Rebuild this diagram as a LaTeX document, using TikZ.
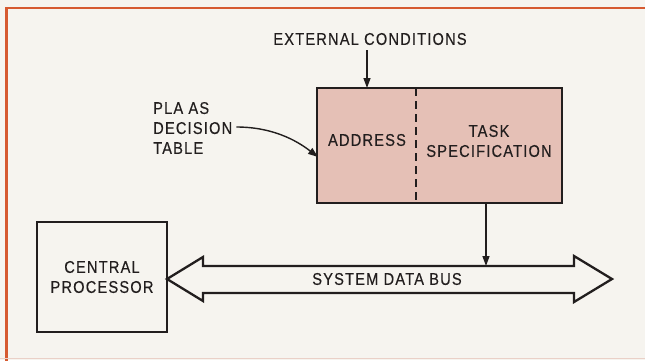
\documentclass[tikz,border=0pt]{standalone}
\usepackage{fontspec}
\setmainfont{Liberation Sans}[FakeStretch=0.86,LetterSpace=7,FakeBold=0.3]
\usetikzlibrary{arrows.meta}
\definecolor{bgc}{HTML}{F6F4EF}
\definecolor{framec}{HTML}{D65A30}
\definecolor{pinkc}{HTML}{E5C0B6}
\definecolor{inkc}{HTML}{221E1E}
\begin{document}
\begin{tikzpicture}[x=1pt,y=-1pt,
  txt/.style={text=inkc,font=\fontsize{17}{20}\selectfont,align=center,inner sep=0pt},
  boxst/.style={draw=inkc,line width=2.8pt,inner sep=0pt},
  arr/.style={draw=inkc,line width=1.4pt,-{Triangle[length=10pt,width=7pt]}},
  busst/.style={draw=inkc,line width=2.3pt,fill=bgc,line join=miter}]
\useasboundingbox (0,0) rectangle (645,360);
\fill[bgc] (0,0) rectangle (645,360);
% frame
\draw[framec,line width=2.6pt] (6.5,362) -- (6.5,8) -- (647,8);
\draw[pinkc!70!bgc,line width=1.5pt] (0,358.5) -- (645,358.5);
% PLA box
\node[boxst,fill=pinkc,minimum width=245pt,minimum height=115pt] (pla) at (439.5,145.5) {};
\coordinate (dtop) at (416,88);
\coordinate (dbot) at (416,203);
\draw[inkc,line width=2pt,dash pattern=on 8pt off 5pt] (dtop) -- (dbot);
\node[txt] (addr) at (367,140) {ADDRESS};
\node[txt] (task) at (489,141) {TASK\\SPECIFICATION};
% external conditions
\node[txt] (ext) at (370,39) {EXTERNAL CONDITIONS};
\coordinate (extin) at (367,88);
\draw[arr] (ext.south -| extin) ++(0,5) -- (extin);
% PLA label
\node[txt,align=left,anchor=west] (plalab) at (153,128) {PLA AS\\DECISION\\TABLE};
\coordinate (plain) at (318,157);
\draw[arr] (plalab.east) ++(4,-1) .. controls (272,127) and (296,140) .. (plain);
% central processor
\node[boxst,minimum width=130pt,minimum height=110pt] (cp) at (102,277) {};
\node[txt] (cptxt) at (102,277) {CENTRAL\\PROCESSOR};
% bus
\coordinate (busL) at (167,279);
\coordinate (busR) at (612,279);
\draw[busst] (busL) -- (203,257) -- (203,266) -- (574,266) -- (574,256) -- (busR)
  -- (574,302) -- (574,293) -- (203,293) -- (203,301) -- cycle;
\node[txt] (bus) at (387,279) {SYSTEM DATA BUS};
\coordinate (busin) at (486,266);
\draw[arr] (pla.south -| busin) -- (busin);
\end{tikzpicture}
\end{document}
